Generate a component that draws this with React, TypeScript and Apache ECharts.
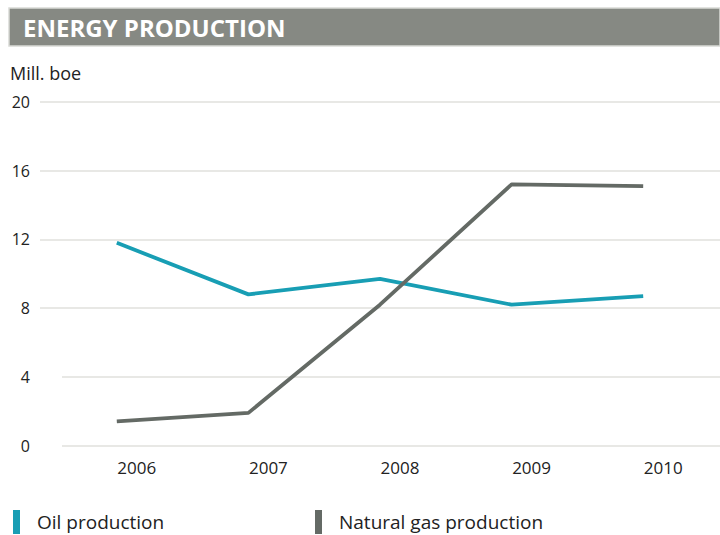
import React, { useEffect, useRef } from "react";
import * as echarts from "echarts";

const years = ["2006", "2007", "2008", "2009", "2010"];
const oilProduction = [11.8, 8.8, 9.7, 8.2, 8.7];
const gasProduction = [1.4, 1.9, 8.2, 15.2, 15.1];
const yTicks = [0, 4, 8, 12, 16, 20];
const longGridValues = [8, 12, 16, 20];
const shortGridValues = [0, 4];

const FONT = "'Open Sans', 'Noto Sans', sans-serif";
const OIL = "#189eb4";
const GAS = "#646a65";
const GRIDC = "#e1e1dd";

export default function App() {
  const ref = useRef<HTMLDivElement>(null);
  useEffect(() => {
    const chart = echarts.init(ref.current!, undefined, { renderer: "svg" });
    const gridLines: any[] = [
      ...longGridValues.map((v) => [
        { yAxis: v, x: 40 },
        { yAxis: v, x: 720 },
      ]),
      ...shortGridValues.map((v) => [
        { yAxis: v, x: 62 },
        { yAxis: v, x: 720 },
      ]),
    ];
    const legendText = { fontSize: 19, color: "#222", padding: [0, 0, 0, 12], fontFamily: FONT };
    chart.setOption({
      animation: false,
      textStyle: { fontFamily: FONT },
      graphic: [
        {
          type: "rect",
          shape: { x: 9, y: 8, width: 711, height: 38 },
          style: { fill: "#868983", stroke: "#d9dad6", lineWidth: 1.5 },
          silent: true,
        },
        {
          type: "text",
          x: 23,
          y: 27,
          style: {
            text: "ENERGY PRODUCTION",
            fill: "#ffffff",
            font: `bold 24px ${FONT}`,
            textVerticalAlign: "middle",
          },
        },
        {
          type: "text",
          x: 10,
          y: 73,
          style: {
            text: "Mill. boe",
            fill: "#222",
            font: `18px ${FONT}`,
            textVerticalAlign: "middle",
          },
        },
      ],
      legend: [
        {
          data: [{ name: "Oil production" }],
          left: 13,
          top: 510,
          padding: 0,
          icon: "rect",
          itemWidth: 7,
          itemHeight: 24,
          textStyle: legendText,
        },
        {
          data: [{ name: "Natural gas production" }],
          left: 315,
          top: 510,
          padding: 0,
          icon: "rect",
          itemWidth: 7,
          itemHeight: 24,
          textStyle: legendText,
        },
      ],
      grid: { left: 51, right: 11, top: 102, height: 343.5 },
      xAxis: {
        type: "category",
        data: years,
        boundaryGap: true,
        axisLine: { show: false },
        axisTick: { show: false },
        axisLabel: {
          color: "#222",
          fontSize: 17,
          margin: 13,
          padding: [0, 0, 0, 40],
          fontFamily: FONT,
        },
      },
      yAxis: {
        type: "value",
        min: yTicks[0],
        max: yTicks[yTicks.length - 1],
        interval: 4,
        splitLine: { show: false },
        axisLine: { show: false },
        axisTick: { show: false },
        axisLabel: { color: "#222", fontSize: 16, margin: 21, fontFamily: FONT },
      },
      series: [
        {
          name: "Oil production",
          type: "line",
          data: oilProduction,
          symbol: "none",
          z: 3,
          lineStyle: { color: OIL, width: 3.8 },
          itemStyle: { color: OIL },
          markLine: {
            silent: true,
            symbol: "none",
            label: { show: false },
            lineStyle: { color: GRIDC, width: 1.5, type: "solid" },
            z: 1,
            data: gridLines,
          },
        },
        {
          name: "Natural gas production",
          type: "line",
          data: gasProduction,
          symbol: "none",
          z: 4,
          lineStyle: { color: GAS, width: 3.8 },
          itemStyle: { color: GAS },
        },
      ],
    });
    return () => chart.dispose();
  }, []);
  return <div ref={ref} style={{ width: 720, height: 535, position: "absolute", left: 0, top: 0 }} />;
}
